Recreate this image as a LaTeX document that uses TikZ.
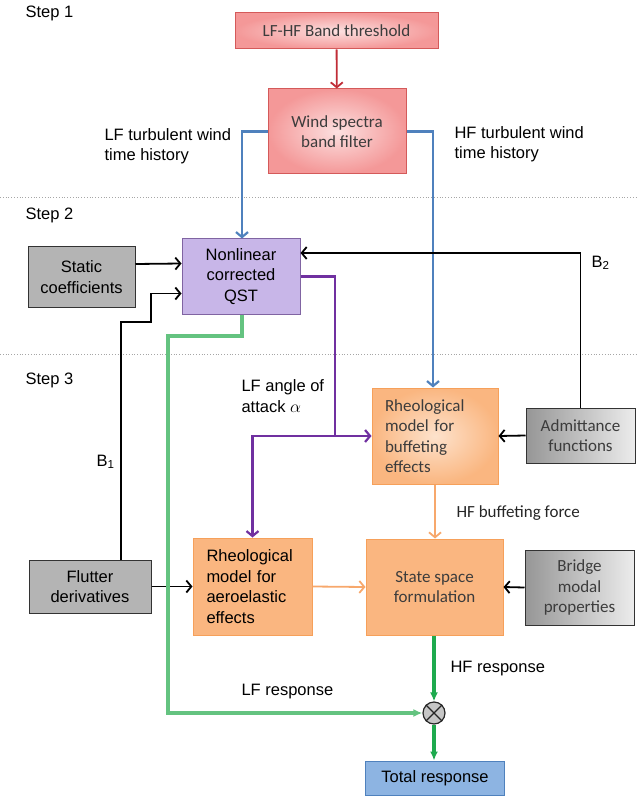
\documentclass[tikz,border=0pt]{standalone}
\usepackage{fontspec}
\setmainfont{Liberation Sans}
\newfontfamily\calfont{Carlito}
\usetikzlibrary{arrows.meta}

\definecolor{redline}{RGB}{192,45,55}
\definecolor{blueline}{RGB}{79,129,189}
\definecolor{purpleline}{RGB}{112,48,160}
\definecolor{orangeline}{RGB}{247,168,108}
\definecolor{lfgreen}{RGB}{100,195,128}
\definecolor{hfgreen}{RGB}{30,170,78}
\definecolor{redfill}{RGB}{244,152,152}
\definecolor{redin}{RGB}{252,224,224}
\definecolor{redborder}{RGB}{212,90,90}
\definecolor{purplefill}{RGB}{200,182,232}
\definecolor{purpleborder}{RGB}{128,100,162}
\definecolor{orangefill}{RGB}{250,182,128}
\definecolor{orangein}{RGB}{253,226,204}
\definecolor{orangeborder}{RGB}{246,160,90}
\definecolor{grayfill}{RGB}{180,180,180}
\definecolor{graydark}{RGB}{150,150,150}
\definecolor{graylight}{RGB}{236,236,236}
\definecolor{totalfill}{RGB}{141,180,226}
\definecolor{boxtext}{RGB}{60,60,60}

\tikzset{
  every node/.style={font=\fontsize{16.5}{20.5}\selectfont},
  cal/.style={font=\calfont\fontsize{17}{20.5}\selectfont, text=boxtext},
  box/.style={rectangle, inner sep=0pt, align=center, line width=1pt},
  redbox/.style={box, draw=redborder, inner color=redin, outer color=redfill, cal},
  qstbox/.style={box, draw=purpleborder, fill=purplefill},
  orangebox/.style={box, draw=orangeborder, inner color=orangein, outer color=orangefill, cal},
  graybox/.style={box, draw=black!80, fill=grayfill},
  shadebox/.style={box, draw=black!80, left color=graydark, right color=graylight, cal},
  bar/.style={-{Straight Barb[length=5pt,width=12pt]}, line width=1.8pt},
  fat/.style={-{Latex[length=9pt,width=8pt]}, line width=3.4pt},
}

\begin{document}
\begin{tikzpicture}[x=1pt,y=-1pt]
\useasboundingbox (0,0) rectangle (636,799);

% steps
\draw[gray!70, dotted, line width=0.8pt] (0,197) -- (636,197);
\draw[gray!70, dotted, line width=0.8pt] (0,354) -- (636,354);
\node[anchor=west] (s1) at (22,13) {Step 1};
\node[anchor=west] (s2) at (22,215) {Step 2};
\node[anchor=west] (s3) at (22,380) {Step 3};

% boxes
\node[redbox, minimum width=203pt, minimum height=36pt] (thr) at (336.5,31) {LF-HF Band threshold};
\node[redbox, minimum width=138pt, minimum height=85pt] (filt) at (337,131.5) {Wind spectra\\band filter};
\node[qstbox, minimum width=118pt, minimum height=75pt] (qst) at (241,276.5) {Nonlinear\\corrected\\QST};
\node[graybox, minimum width=107pt, minimum height=60pt] (stat) at (81.5,277) {Static\\coefficients};
\node[orangebox, minimum width=126pt, minimum height=96pt, text width=100pt, align=left] (buff) at (435,436) {Rheological\\model for\\buffeting\\effects};
\node[shadebox, minimum width=109pt, minimum height=55pt] (adm) at (580.5,435.5) {Admittance\\functions};
\node[graybox, minimum width=122pt, minimum height=53pt] (flut) at (90,586.5) {Flutter\\derivatives};
\node[box, draw=orangeborder, fill=orangefill, minimum width=119pt, minimum height=97pt, text width=92pt, align=left] (aero) at (252.5,586.5) {Rheological\\model for\\aeroelastic\\effects};
\node[box, draw=orangeborder, left color=orangefill, middle color=orangein, right color=orangefill, cal, minimum width=137pt, minimum height=96pt] (state) at (434.5,587) {State space\\formulation};
\node[shadebox, minimum width=109pt, minimum height=75pt] (bridge) at (579.5,587.5) {Bridge\\modal\\properties};
\node[circle, draw=black!85, fill=gray!45, line width=1.2pt, minimum size=22pt, inner sep=0pt] (sum) at (434,713) {};
\draw[black!85, line width=1.2pt] (sum.north west) -- (sum.south east) (sum.north east) -- (sum.south west);
\node[box, draw=blueline, fill=totalfill, minimum width=139pt, minimum height=34pt] (total) at (435,778) {Total response};

% labels
\node[anchor=west, align=left] (lflab) at (101,146) {LF turbulent wind\\time history};
\node[anchor=west, align=left] (hflab) at (451,144) {HF turbulent wind\\time history};
\node[anchor=west, align=left] (aoa) at (238,396) {LF angle of\\attack $\alpha$};
\node[anchor=west] (b1) at (93,462) {B\textsubscript{1}};
\node[anchor=west] (b2) at (588,263) {B\textsubscript{2}};
\node[anchor=west, cal, text=black!85] (hfforce) at (453,513) {HF buffeting force};
\node[anchor=west] (hfresp) at (447,669) {HF response};
\node[anchor=west] (lfresp) at (238,692) {LF response};

% connectors
\coordinate (lfturn) at (242,131.5);
\coordinate (hfturn) at (433,131.5);
\coordinate (pturn) at (335,276.5);
\coordinate (pfork) at (335,436);
\coordinate (gturn) at (168,336);
\draw[bar, redline] (thr) -- (filt);
\draw[bar, blueline, line width=2.2pt] (filt.west) -- (lfturn) -- (qst.north -| lfturn);
\draw[bar, blueline, line width=2.2pt] (filt.east) -- (hfturn) -- (buff.north -| hfturn);
\draw[bar] ([yshift=13pt]stat.east) -- ([yshift=13pt]qst.west);
\draw[bar] (flut.north -| 121,0) |- (151,322) |- ([yshift=-17pt]qst.west);
\draw[bar] (adm.north) |- ([yshift=23.5pt]qst.east);
\draw[bar] (adm.west) -- (buff.east);
\draw[bar] (bridge.west) -- (state.east);
\draw[bar] (flut.east) -- (aero.west);
\draw[bar, orangeline] (aero.east) -- (state.west);
\draw[bar, orangeline] (buff.south) -- (state.north -| buff.south);
\draw[bar, purpleline, line width=2.2pt] (qst.east) -- (pturn) -- (pfork) -- (buff.west);
\draw[bar, purpleline, line width=2.2pt] (pfork) -| (aero.north);
\draw[fat, lfgreen] (qst.south -| lfturn) |- (gturn) |- (sum.west);
\draw[fat, hfgreen] (state.south -| sum) -- (sum.north);
\draw[fat, hfgreen] (sum.south) -- (total.north -| sum);
\end{tikzpicture}
\end{document}
